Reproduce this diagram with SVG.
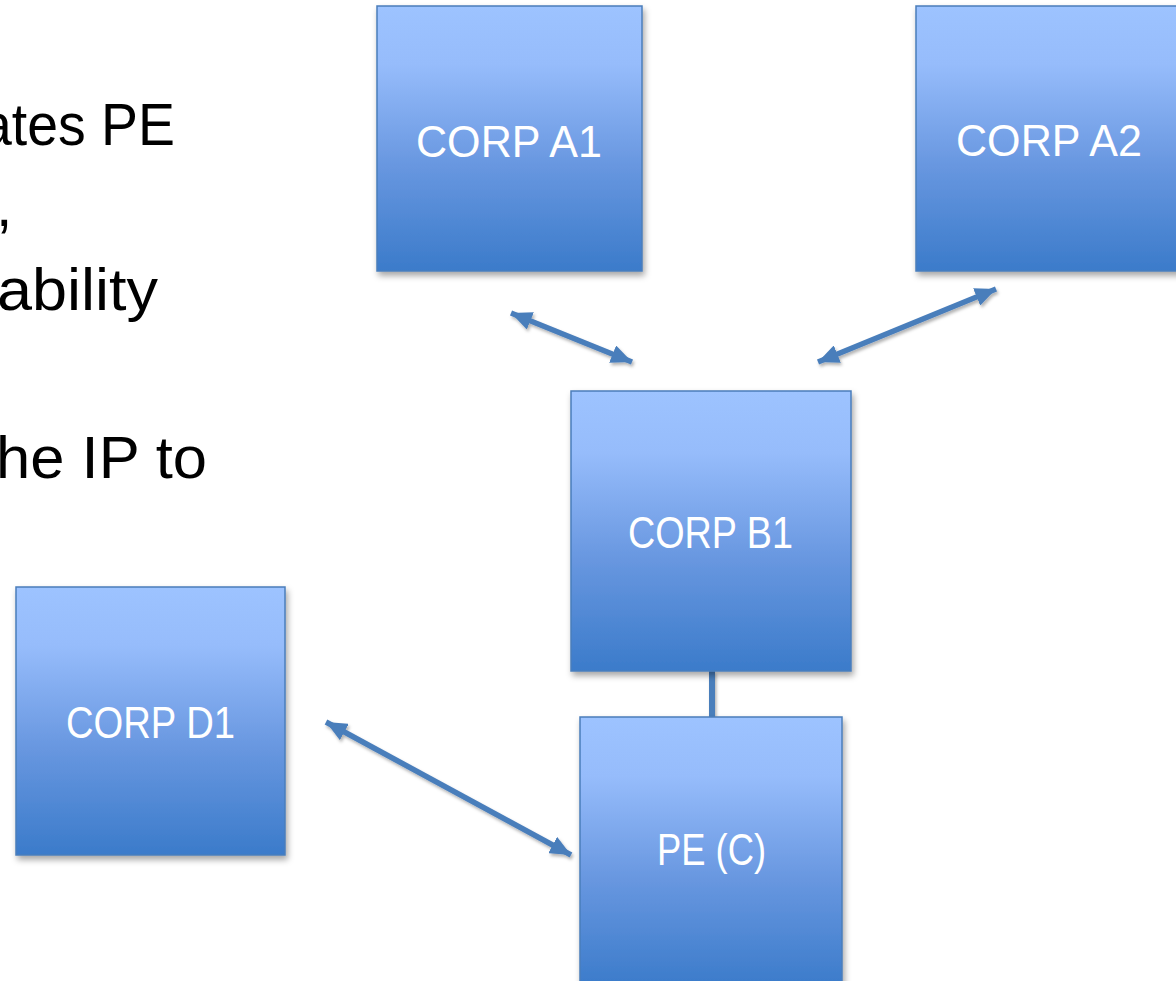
<svg xmlns="http://www.w3.org/2000/svg" width="1176" height="981" viewBox="0 0 1176 981">
  <defs>
    <linearGradient id="boxFill" x1="0" y1="0" x2="0" y2="1">
      <stop offset="0" stop-color="#9dc3ff"/>
      <stop offset="0.22" stop-color="#96bcfb"/>
      <stop offset="0.6" stop-color="#6897e0"/>
      <stop offset="1" stop-color="#3b7bca"/>
    </linearGradient>
    <filter id="shadow" x="-10%" y="-10%" width="125%" height="125%">
      <feDropShadow dx="2" dy="4" stdDeviation="3" flood-color="#000" flood-opacity="0.35"/>
    </filter>
    <filter id="lineShadow" filterUnits="userSpaceOnUse" x="0" y="0" width="1176" height="981">
      <feDropShadow dx="1.5" dy="2.5" stdDeviation="1.8" flood-color="#000" flood-opacity="0.3"/>
    </filter>
    <marker id="head" viewBox="0 0 10 10" refX="10" refY="5" markerWidth="3.8" markerHeight="3.4" orient="auto-start-reverse" markerUnits="strokeWidth" preserveAspectRatio="none">
      <path d="M0,0 L10,5 L0,10 Z" fill="#4a7ebb"/>
    </marker>
  </defs>
  <style>
    .box { fill: url(#boxFill); stroke: #4a7ebb; stroke-width: 1.5; filter: url(#shadow); }
    .label { font-family: "Liberation Sans", Arial, sans-serif; font-size: 45px; fill: #ffffff; }
    .body { font-family: "Liberation Sans", Arial, sans-serif; font-size: 59px; fill: #000000; }
    .link { stroke: #4a7ebb; stroke-width: 5.5; fill: none; filter: url(#lineShadow); }
    .stem { stroke: #4a7ebb; stroke-width: 6; fill: none; filter: url(#lineShadow); }
  </style>

  <!-- bullet text running in from the left edge -->
  <g id="bullets">
    <text class="body" x="-19" y="145" textLength="194" lengthAdjust="spacingAndGlyphs">ates PE</text>
    <text class="body" x="-4" y="226">,</text>
    <text class="body" x="-3" y="310" textLength="161" lengthAdjust="spacingAndGlyphs">ability</text>
    <text class="body" x="-4" y="478" textLength="211" lengthAdjust="spacingAndGlyphs">he IP to</text>
  </g>

  <!-- connectors -->
  <g id="connectors">
    <line class="stem" x1="712" y1="671" x2="712" y2="717"/>
    <line class="link" x1="511" y1="313" x2="632" y2="362" marker-start="url(#head)" marker-end="url(#head)"/>
    <line class="link" x1="996" y1="289" x2="818" y2="362" marker-start="url(#head)" marker-end="url(#head)"/>
    <line class="link" x1="326" y1="722" x2="571" y2="855" marker-start="url(#head)" marker-end="url(#head)"/>
  </g>

  <g id="corp-a1">
    <rect class="box" x="377" y="6" width="265" height="265"/>
    <text class="label" x="416" y="157" textLength="186" lengthAdjust="spacingAndGlyphs">CORP A1</text>
  </g>

  <g id="corp-a2">
    <rect class="box" x="916" y="6" width="266" height="265"/>
    <text class="label" x="956" y="156" textLength="186" lengthAdjust="spacingAndGlyphs">CORP A2</text>
  </g>

  <g id="corp-b1">
    <rect class="box" x="571" y="391" width="280" height="280"/>
    <text class="label" x="628" y="548" textLength="165" lengthAdjust="spacingAndGlyphs">CORP B1</text>
  </g>

  <g id="pe-c">
    <rect class="box" x="580" y="717" width="262" height="270"/>
    <text class="label" x="657" y="865" textLength="109" lengthAdjust="spacingAndGlyphs">PE (C)</text>
  </g>

  <g id="corp-d1">
    <rect class="box" x="16" y="587" width="269" height="268"/>
    <text class="label" x="66" y="738" textLength="169" lengthAdjust="spacingAndGlyphs">CORP D1</text>
  </g>
</svg>
